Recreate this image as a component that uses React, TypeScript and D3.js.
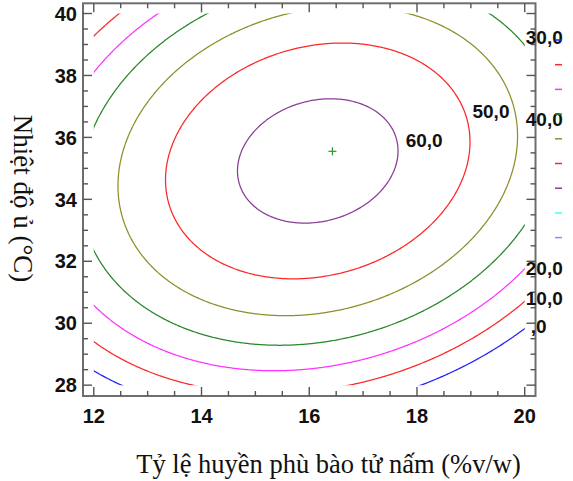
import React from "react";
import * as d3 from "d3";

const WIDTH = 573;
const HEIGHT = 481;

// Second-order response surface, written around its stationary point:
// Y = PEAK + a·p² + b·q² + c·p·q,  p = x - x0, q = y - y0
const PEAK_RESPONSE = 63.85;
const STATIONARY_POINT = [16.158, 35.24];
const QUAD_COEFS = [-1.78, -0.981, 0.425];

// Experimental region of the two factors
const X_RANGE = [12, 20];
const Y_RANGE = [28, 40];

const CONTOUR_LEVELS = [0, 10, 20, 30, 40, 50, 60];
const LEGEND_LEVELS = [0, 10, 20, 30, 40, 50, 60, 70, 80];
const LEVEL_COLORS = [
  "#2222ff",
  "#ff2626",
  "#ff33ff",
  "#2a862a",
  "#8e8e2a",
  "#ff2626",
  "#8a3c96",
  "#40ffff",
  "#8a8aff",
];

const X_TICKS = [12, 14, 16, 18, 20];
const Y_TICKS = [28, 30, 32, 34, 36, 38, 40];
const OPTIMUM = [16.43, 35.55];

const X_TITLE = "Tỷ lệ huyền phù bào tử nấm (%v/w)";
const Y_TITLE = "Nhiệt độ ủ (°C)";

// Contour value labels (text + anchor in data units)
const CONTOUR_LABELS = [
  { text: "60,0", x: 17.79, y: 35.68 },
  { text: "50,0", x: 19.03, y: 36.62 },
  { text: "30,0", x: 20.02, y: 39.0 },
  { text: "40,0", x: 20.02, y: 36.36 },
  { text: "20,0", x: 20.02, y: 31.55 },
  { text: "10,0", x: 20.02, y: 30.58 },
  { text: ",0", x: 20.11, y: 29.68 },
];

const FRAME = { left: 83, right: 535.5, top: 3.3, bottom: 396 };
const X_DOMAIN = [11.8, 20.2];
const Y_DOMAIN = [27.65, 40.33];

const SANS = "'Liberation Sans', Arial, Helvetica, sans-serif";
const SERIF = "'Liberation Serif', 'Times New Roman', Times, serif";

function response(x: number, y: number): number {
  const p = x - STATIONARY_POINT[0];
  const q = y - STATIONARY_POINT[1];
  return PEAK_RESPONSE + QUAD_COEFS[0] * p * p + QUAD_COEFS[1] * q * q + QUAD_COEFS[2] * p * q;
}

export default function App() {
  const xScale = d3.scaleLinear().domain(X_DOMAIN).range([FRAME.left, FRAME.right]);
  const yScale = d3.scaleLinear().domain(Y_DOMAIN).range([FRAME.bottom, FRAME.top]);

  // Sample the surface on a grid a little wider than the region, then clip
  const STEP = 0.025;
  const GX0 = X_RANGE[0] - 0.5;
  const GY0 = Y_RANGE[0] - 0.5;
  const nx = Math.round((X_RANGE[1] + 0.5 - GX0) / STEP) + 1;
  const ny = Math.round((Y_RANGE[1] + 0.5 - GY0) / STEP) + 1;
  const values = new Float64Array(nx * ny);
  for (let j = 0; j < ny; j++) {
    for (let i = 0; i < nx; i++) {
      values[j * nx + i] = response(GX0 + i * STEP, GY0 + j * STEP);
    }
  }
  const contours = d3.contours().size([nx, ny]).thresholds(CONTOUR_LEVELS)(values as any);

  const projection = d3.geoTransform({
    point(px: number, py: number) {
      (this as any).stream.point(
        xScale(GX0 + (px - 0.5) * STEP),
        yScale(GY0 + (py - 0.5) * STEP)
      );
    },
  });
  const pathGen = d3.geoPath(projection);

  const clipX0 = xScale(X_RANGE[0]);
  const clipX1 = xScale(X_RANGE[1]);
  const clipY0 = yScale(Y_RANGE[1]);
  const clipY1 = yScale(Y_RANGE[0]);

  const xMinor = d3.range(X_RANGE[0], X_RANGE[1] + 0.001, 0.5);
  const yMinor = d3.range(Y_RANGE[0], Y_RANGE[1] + 0.001, 0.5);
  const isMajorX = (v: number) => X_TICKS.some((t) => Math.abs(t - v) < 1e-6);
  const isMajorY = (v: number) => Y_TICKS.some((t) => Math.abs(t - v) < 1e-6);

  const tickColor = "#555";
  const MAJOR = 9;
  const MINOR = 5;

  const legendX = 555;
  const legendY0 = 40;
  const legendStep = 24.7;

  return (
    <svg width={WIDTH} height={HEIGHT} style={{ display: "block", position: "absolute", left: 0, top: 0, background: "#fff" }}>
      <defs>
        <clipPath id="region-clip">
          <rect x={clipX0} y={clipY0} width={clipX1 - clipX0} height={clipY1 - clipY0} />
        </clipPath>
      </defs>
      <rect x={0} y={0} width={WIDTH} height={HEIGHT} fill="#fff" />

      {/* contour lines */}
      <g clipPath="url(#region-clip)" fill="none" strokeWidth={1.25} strokeLinejoin="round">
        {contours.map((c, k) => (
          <path key={k} d={pathGen(c as any) || ""} stroke={LEVEL_COLORS[k]} />
        ))}
      </g>

      {/* optimum marker */}
      <g stroke="#2a9a2a" strokeWidth={1.2}>
        <line x1={xScale(OPTIMUM[0]) - 4} x2={xScale(OPTIMUM[0]) + 4} y1={yScale(OPTIMUM[1])} y2={yScale(OPTIMUM[1])} />
        <line x1={xScale(OPTIMUM[0])} x2={xScale(OPTIMUM[0])} y1={yScale(OPTIMUM[1]) - 4} y2={yScale(OPTIMUM[1]) + 4} />
      </g>

      {/* frame */}
      <rect
        x={FRAME.left}
        y={FRAME.top}
        width={FRAME.right - FRAME.left}
        height={FRAME.bottom - FRAME.top}
        fill="none"
        stroke="#6e6e6e"
        strokeWidth={2}
      />

      {/* ticks on all four sides, pointing inward */}
      <g stroke={tickColor} strokeWidth={1.4}>
        {xMinor.map((v) => {
          const len = isMajorX(v) ? MAJOR : MINOR;
          const x = xScale(v);
          return (
            <g key={`xt${v}`}>
              <line x1={x} x2={x} y1={FRAME.bottom} y2={FRAME.bottom - len} />
              <line x1={x} x2={x} y1={FRAME.top} y2={FRAME.top + len} />
            </g>
          );
        })}
        {yMinor.map((v) => {
          const len = isMajorY(v) ? MAJOR : MINOR;
          const y = yScale(v);
          return (
            <g key={`yt${v}`}>
              <line x1={FRAME.left} x2={FRAME.left + len} y1={y} y2={y} />
              <line x1={FRAME.right} x2={FRAME.right - len} y1={y} y2={y} />
            </g>
          );
        })}
      </g>

      {/* tick labels */}
      <g fontFamily={SANS} fontWeight="bold" fontSize={20} fill="#111">
        {X_TICKS.map((v) => (
          <text key={`xl${v}`} x={xScale(v)} y={423} textAnchor="middle">
            {v}
          </text>
        ))}
        {Y_TICKS.map((v) => (
          <text key={`yl${v}`} x={77} y={yScale(v)} dy="0.36em" textAnchor="end">
            {v}
          </text>
        ))}
      </g>

      {/* contour value labels */}
      <g fontFamily={SANS} fontWeight="bold" fontSize={19} fill="#111">
        {CONTOUR_LABELS.map((l) => (
          <text key={l.text + l.y} x={xScale(l.x)} y={yScale(l.y)}>
            {l.text}
          </text>
        ))}
      </g>

      {/* legend swatches */}
      <g strokeWidth={1.5}>
        {LEGEND_LEVELS.map((lv, k) => (
          <line
            key={`lg${lv}`}
            x1={legendX}
            x2={legendX + 7}
            y1={legendY0 + k * legendStep}
            y2={legendY0 + k * legendStep}
            stroke={LEVEL_COLORS[k]}
          />
        ))}
      </g>

      {/* axis titles */}
      <text x={328.5} y={473} textAnchor="middle" fontFamily={SERIF} fontSize={26.5} fill="#111">
        {X_TITLE}
      </text>
      <text
        transform={`translate(23, 198.5) rotate(90)`}
        textAnchor="middle"
        dominantBaseline="central"
        fontFamily={SERIF}
        fontSize={27}
        fill="#111"
      >
        {Y_TITLE}
      </text>
    </svg>
  );
}
